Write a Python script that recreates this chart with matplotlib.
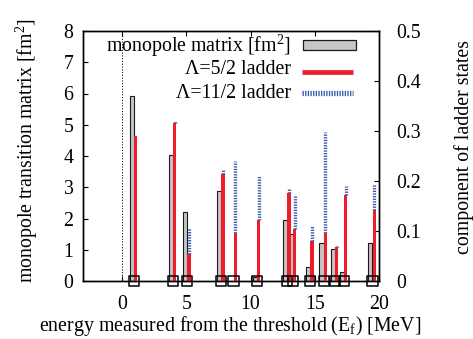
import numpy as np
import matplotlib
matplotlib.use("Agg")
import matplotlib.pyplot as plt
from matplotlib.lines import Line2D
from matplotlib.patches import Rectangle

plt.rcParams["font.family"] = ["Liberation Serif", "DejaVu Serif"]
plt.rcParams["mathtext.fontset"] = "custom"
plt.rcParams["mathtext.rm"] = "Liberation Serif"
plt.rcParams["mathtext.it"] = "Liberation Serif:italic"
plt.rcParams["lines.scale_dashes"] = False
plt.rcParams["font.size"] = 14.3

# excitation energies of the final states [MeV]
energies = [0.94, 3.96, 5.09, 7.72, 8.67, 10.49, 12.85, 13.28, 14.63, 15.68, 16.55, 17.25, 19.47]
# monopole transition matrix elements [fm^2]
monopole = [5.93, 4.04, 2.20, 2.88, 0.00, 0.12, 1.95, 1.49, 0.45, 1.21, 1.02, 0.28, 1.21]
# components of the ladder states
ladder_52 = [0.290, 0.317, 0.055, 0.214, 0.097, 0.122, 0.177, 0.105, 0.080, 0.097, 0.069, 0.172, 0.142]
ladder_112 = [0.000, 0.003, 0.052, 0.009, 0.143, 0.088, 0.010, 0.067, 0.031, 0.201, 0.002, 0.018, 0.053]

x_ticks = [0, 5, 10, 15, 20]
y_ticks = [0, 1, 2, 3, 4, 5, 6, 7, 8]
y2_ticks = [0, 0.1, 0.2, 0.3, 0.4, 0.5]
y2_labels = ["0", "0.1", "0.2", "0.3", "0.4", "0.5"]

W, H = 473, 339
fig = plt.figure(figsize=(W / 100, H / 100), dpi=100)


def px(x, y):
    return x / W, 1 - y / H


left, right, top, bottom = 83.2, 379.3, 31.0, 281.0
ax = fig.add_axes([left / W, 1 - bottom / H, (right - left) / W, (bottom - top) / H])
ax2 = ax.twinx()

E = np.array(energies)
b52 = np.array(ladder_52)
b112 = np.array(ladder_112)

grey = "#c6c6c6"
red = "#ee1d2a"
blue = "#3a58aa"
dash = (0, (0.95, 0.95))

ax.axvline(0, color="k", lw=0.7, ls=(0, (0.8, 1.2)), zorder=1)
ax.bar(E - 0.165, monopole, width=0.33, color=grey, edgecolor="#1a1a1a", lw=0.8, zorder=2)

ax2.bar(E + 0.14, b52, width=0.26, color=red, lw=0, zorder=2)
ax2.vlines(E + 0.14, b52, b52 + b112, colors=blue, lw=2.4, linestyles=[dash], zorder=2)
ax2.scatter(E, np.zeros_like(E), marker="s", s=7.3 ** 2, facecolors="none",
            edgecolors="k", linewidths=1.1, zorder=5, clip_on=False)

ax.set_xlim(-3, 20)
ax.set_ylim(0, 8)
ax2.set_ylim(0, 0.5)
ax.set_xticks(x_ticks)
ax.set_yticks(y_ticks)
ax2.set_yticks(y2_ticks)
ax2.set_yticklabels(y2_labels)

ax.tick_params(axis="x", direction="in", top=True, bottom=True, length=3.6, width=0.8, pad=10)
ax.tick_params(axis="y", direction="in", left=True, right=False, length=3.6, width=0.8, pad=7)
ax2.tick_params(axis="y", direction="in", left=False, right=True, length=3.6, width=0.8, pad=12)
for a in (ax, ax2):
    for s in a.spines.values():
        s.set_linewidth(1.0)

fig.text(*px(27, 151), "monopole transition matrix [fm$^2$]", rotation=90,
         ha="center", va="center")
fig.text(*px(464, 147), "component of ladder states", rotation=90,
         ha="center", va="center")
fig.text(*px(230.5, 326), r"energy measured from the threshold (E$_\mathrm{f}$) [MeV]",
         ha="center", va="center")

# key
labels = ["monopole matrix [fm$^2$]", "Λ=5/2 ladder", "Λ=11/2 ladder"]
rows = [46, 70, 93]
for lab, yy in zip(labels, rows):
    fig.text(*px(291, yy), lab, ha="right", va="center")
x0, y0 = px(302.7, 50)
x1, y1 = px(356, 40)
fig.add_artist(Rectangle((x0, y0), x1 - x0, y1 - y0, transform=fig.transFigure,
                         facecolor=grey, edgecolor="#1a1a1a", lw=0.9))
fig.add_artist(Line2D([301.7 / W, 353.3 / W], [1 - 71.7 / H] * 2, transform=fig.transFigure,
                      color=red, lw=3.4, solid_capstyle="butt"))
fig.add_artist(Line2D([301.7 / W, 353.3 / W], [1 - 93 / H] * 2, transform=fig.transFigure,
                      color=blue, lw=3.8, ls=dash, dash_capstyle="butt"))

fig.savefig("out.png", dpi=100)
